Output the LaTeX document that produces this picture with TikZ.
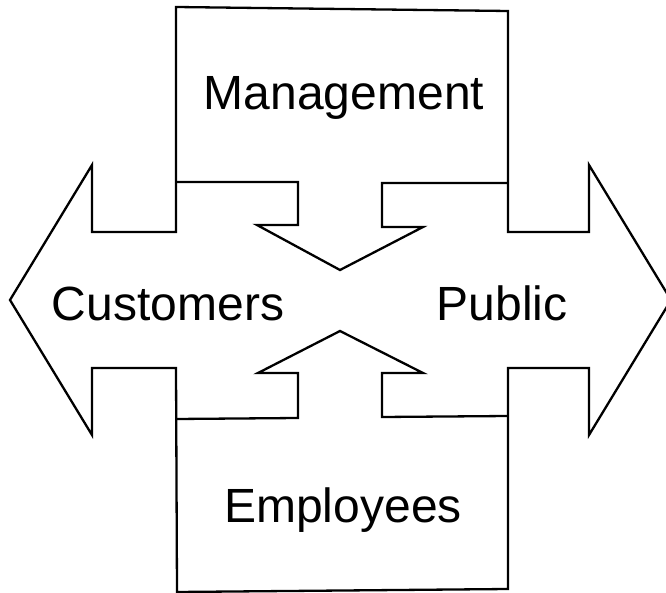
\documentclass[tikz,border=0pt]{standalone}
\usepackage{fontspec}
\setmainfont{Liberation Sans}
\begin{document}
\begin{tikzpicture}[x=1pt,y=-1pt,
  outline/.style={draw=black,line width=2.3pt,line join=miter},
  lbl/.style={anchor=base,inner sep=0pt,font=\fontsize{48}{48}\selectfont,text=black}]
\useasboundingbox[fill=white] (0,0) rectangle (666,593);
% outer boundary
\draw[outline] (176,7) -- (508,11) -- (508,232) -- (589,232) -- (589,165)
  -- (671,300) -- (589,435) -- (589,368) -- (508,368) -- (508,589)
  -- (177,592) -- (176,368) -- (92,368) -- (92,435) -- (10,300)
  -- (92,165) -- (92,232) -- (176,232) -- cycle;
% down arrow from Management
\draw[outline] (176,182) -- (298,182) -- (298,225) -- (257,225) -- (340,270)
  -- (423,227) -- (382,227) -- (382,183) -- (508,183);
% up arrow from Employees
\draw[outline] (176,419) -- (298,418) -- (298,373) -- (258,373) -- (340,331)
  -- (423,373) -- (382,373) -- (382,417) -- (508,416);
% labels
\node[lbl] (mgmt) at (344,110) {Management};
\node[lbl] (cust) at (168,320) {Customers};
\node[lbl] (pub)  at (502,320) {Public};
\node[lbl] (emp)  at (343,522) {Employees};
\end{tikzpicture}
\end{document}
